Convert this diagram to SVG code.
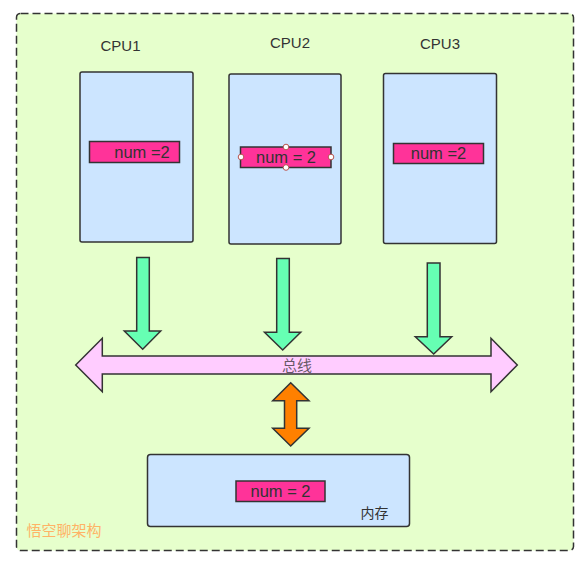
<svg xmlns="http://www.w3.org/2000/svg" width="587" height="564" viewBox="0 0 587 564">
<style>
.lbl{font-family:"Liberation Sans",Arial,sans-serif;font-size:15px;fill:#333333;text-anchor:middle}
.num{font-family:"Liberation Sans",Arial,sans-serif;font-size:16.5px;fill:#333333;text-anchor:middle}
.box{fill:#cce5ff;stroke:#333333;stroke-width:1.5}
.nb{fill:#ff3399;stroke:#333333;stroke-width:1.5}
.ga{fill:#66ffb3;stroke:#333333;stroke-width:1.5;stroke-linejoin:miter}
.cjk{font-family:"Liberation Sans","Noto Sans CJK SC",sans-serif}
.h{fill:#ffffff;stroke:#b85450;stroke-width:1}
</style>
<rect width="587" height="564" fill="#ffffff"/>
<g id="frame">
<rect x="16.5" y="13.5" width="557" height="537" rx="4" fill="#e6ffcc" stroke="#333333" stroke-width="1.5" stroke-dasharray="8,4"/>
<text x="26.5" y="536" class="cjk" font-size="15" fill="#ffb366">悟空聊架构</text>
</g>
<g id="cpu1">
<text x="120.5" y="51" class="lbl">CPU1</text>
<rect x="80" y="72" width="113" height="170" rx="2" class="box"/>
<rect x="89.5" y="141.5" width="90" height="21" class="nb"/>
<text x="142" y="158" class="num">num =2</text>
</g>
<g id="cpu2">
<text x="290" y="48" class="lbl">CPU2</text>
<rect x="229" y="74" width="112" height="170" rx="2" class="box"/>
<rect x="240.5" y="147" width="90.5" height="20.5" class="nb"/>
<text x="286" y="163" class="num">num = 2</text>
<circle cx="241" cy="157" r="2.8" class="h"/>
<circle cx="331" cy="157" r="2.8" class="h"/>
<circle cx="286" cy="147" r="2.8" class="h"/>
<circle cx="286" cy="167.5" r="2.8" class="h"/>
</g>
<g id="cpu3">
<text x="440" y="49" class="lbl">CPU3</text>
<rect x="383.5" y="73.5" width="113" height="170" rx="2" class="box"/>
<rect x="393.5" y="143.5" width="90" height="20" class="nb"/>
<text x="438.5" y="159" class="num">num =2</text>
</g>
<g id="connectors">
<path d="M136.7,257.5 L149.3,257.5 L149.3,331 L160.7,331 L142.7,349.3 L124.3,331 L136.7,331 Z" class="ga"/>
<path d="M276.7,258.5 L289.3,258.5 L289.3,332.3 L300.7,332.3 L282.7,350 L264.5,332.3 L276.7,332.3 Z" class="ga"/>
<path d="M427.3,263 L440,263 L440,336.7 L451.7,336.7 L433.7,354 L415.3,336.7 L427.3,336.7 Z" class="ga"/>
<path d="M75.7,365 L102.3,338.3 L102.3,356 L491,356 L491,338.3 L517.3,365 L491,391.7 L491,374 L102.3,374 L102.3,391.7 Z" fill="#ffccff" stroke="#333333" stroke-width="1.5"/>
<text x="297" y="371" class="cjk" font-size="15" fill="#333333" fill-opacity="0.75" text-anchor="middle">总线</text>
<path d="M290.7,382.7 L309,400.7 L296.7,400.7 L296.7,428.3 L309,428.3 L290.7,446 L272.7,428.3 L284.5,428.3 L284.5,400.7 L272.7,400.7 Z" fill="#ff8000" stroke="#333333" stroke-width="1.5"/>
</g>
<g id="memory">
<rect x="147.5" y="454.5" width="262" height="72" rx="3" class="box"/>
<rect x="236" y="481" width="89" height="20.5" class="nb"/>
<text x="280.5" y="497" class="num">num = 2</text>
<text x="374.5" y="518" class="cjk" font-size="14" fill="#333333" text-anchor="middle">内存</text>
</g>
</svg>
